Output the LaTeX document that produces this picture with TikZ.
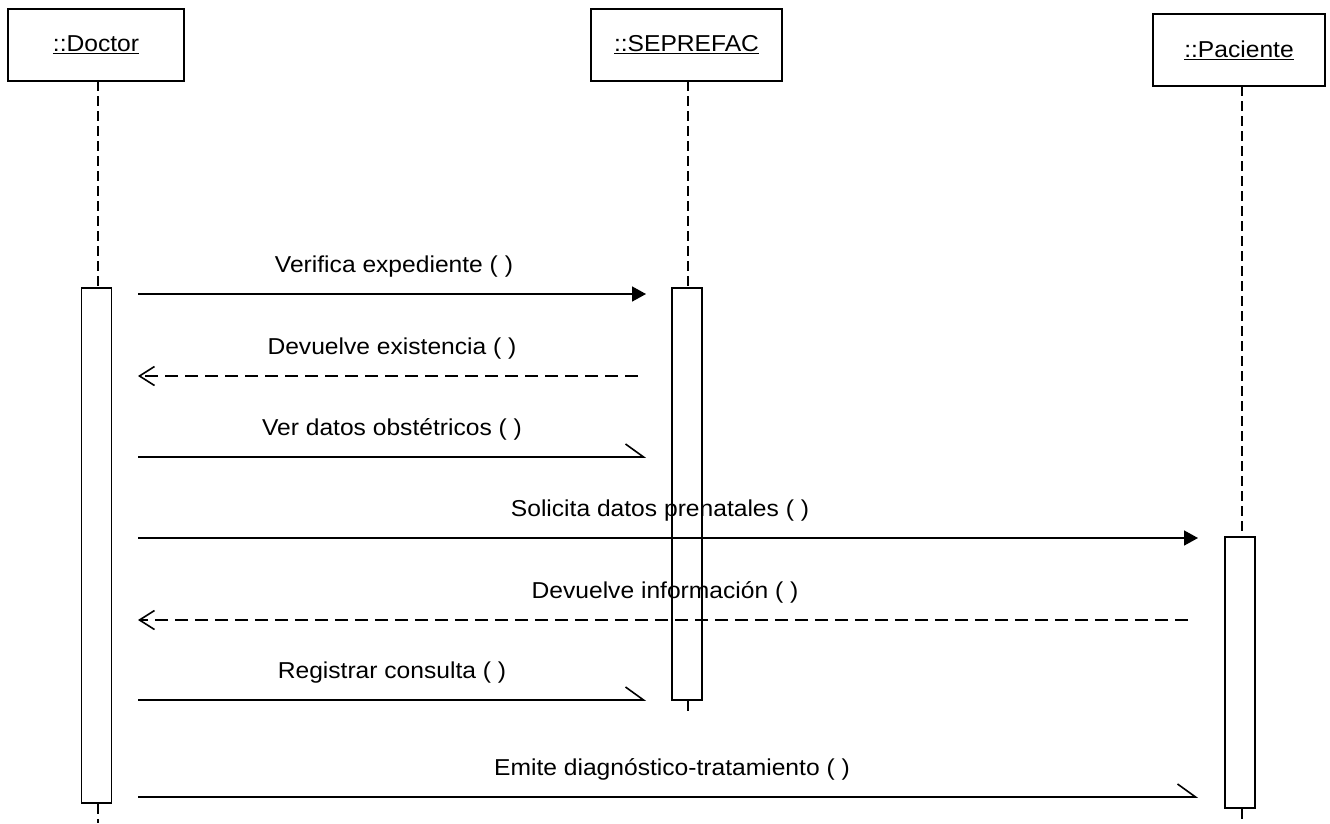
\documentclass[tikz,border=0pt]{standalone}
\usepackage{fontspec}
\setmainfont{Liberation Sans}[FakeStretch=1.07]
\usetikzlibrary{arrows.meta}
\begin{document}
\begin{tikzpicture}[x=1pt,y=-1pt,
  objbox/.style={draw,line width=1.6pt,minimum width=#1,minimum height=72pt,inner sep=0pt,
    font=\fontsize{23}{26}\selectfont},
  actbox/.style={draw,line width=1.6pt,minimum width=30pt,inner sep=0pt},
  lifeline/.style={line width=2.4pt,dash pattern=on 10pt off 5pt},
  msgtext/.style={anchor=base,font=\fontsize{23}{26}\selectfont,inner sep=0pt},
  call/.style={line width=1.6pt,-{Triangle[length=14pt,width=15pt]}},
  reply/.style={line width=2pt,dash pattern=on 13pt off 7pt,
    -{Straight Barb[length=15pt,width=19pt,line width=1.6pt]}},
  async/.style={line width=1.6pt,-{Straight Barb[left,length=18pt,width=26pt,line width=1.6pt]}}]
\useasboundingbox (0,0) rectangle (1330,823);

% participants
\node[objbox=176pt] (doc) at (96,45) {\underline{::Doctor}};
\node[objbox=191pt] (sep) at (686.5,45) {\underline{::SEPREFAC}};
\node[objbox=172pt] (pac) at (1239,50) {\underline{::Paciente}};

% activation bars
\node[actbox,minimum height=515pt] (docact) at (96.5,545.5) {};
\node[actbox,minimum height=412pt] (sepact) at (687,494) {};
\node[actbox,minimum height=271pt] (pacact) at (1240,672.5) {};

% lifelines
\coordinate (docend) at (98,823);
\coordinate (sepend) at (688,712);
\coordinate (pacend) at (1242,823);
\draw[lifeline] (98,81) -- (docact.north -| 98,0);
\draw[lifeline] (docact.south -| 98,0) -- (docend);
\draw[lifeline] (688,81) -- (sepact.north -| 688,0);
\draw[lifeline] (sepact.south -| 688,0) -- (sepend);
\draw[lifeline] (1242,86) -- (pacact.north -| 1242,0);
\draw[lifeline] (pacact.south -| 1242,0) -- (pacend);

% message end points
\coordinate (m1a) at (138,294);  \coordinate (m1b) at (646,294);
\coordinate (m2a) at (638,376);  \coordinate (m2b) at (138,376);
\coordinate (m3a) at (138,457);  \coordinate (m3b) at (646,457);
\coordinate (m4a) at (138,538);  \coordinate (m4b) at (1198,538);
\coordinate (m5a) at (1188,620); \coordinate (m5b) at (138,620);
\coordinate (m6a) at (138,700);  \coordinate (m6b) at (646,700);
\coordinate (m7a) at (138,797);  \coordinate (m7b) at (1198,797);

% messages
\draw[call]  (m1a) -- (m1b);
\draw[reply] (m2a) -- (m2b);
\draw[async] (m3a) -- (m3b);
\draw[call]  (m4a) -- (m4b);
\draw[reply] (m5a) -- (m5b);
\draw[async] (m6a) -- (m6b);
\draw[async] (m7a) -- (m7b);

% message labels
\node[msgtext] (l1) at (394,272) {Verifica expediente ( )};
\node[msgtext] (l2) at (392,354) {Devuelve existencia ( )};
\node[msgtext] (l3) at (392,435) {Ver datos obstétricos ( )};
\node[msgtext] (l4) at (660,516) {Solicita datos prenatales ( )};
\node[msgtext] (l5) at (665,598) {Devuelve información ( )};
\node[msgtext] (l6) at (392,678) {Registrar consulta ( )};
\node[msgtext] (l7) at (672,775) {Emite diagnóstico-tratamiento ( )};
\end{tikzpicture}
\end{document}
